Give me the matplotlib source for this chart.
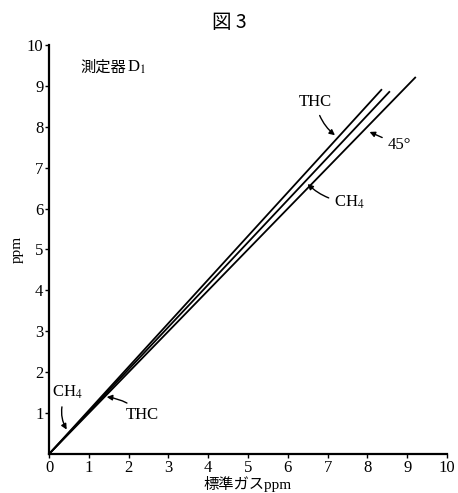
import matplotlib.pyplot as plt

plt.rcParams['font.family'] = ['Liberation Serif', 'DejaVu Serif', 'Noto Sans CJK JP']
plt.rcParams['mathtext.fontset'] = 'stix'

# standard gas concentration (ppm) vs. reading (ppm)
ref_x = [0, 9.2]
ref_y = [0, 9.2]
ch4_x = [0, 8.55]
ch4_y = [0, 8.85]
thc_x = [0, 8.35]
thc_y = [0, 8.9]

ticks = [0, 1, 2, 3, 4, 5, 6, 7, 8, 9, 10]
yticks = [1, 2, 3, 4, 5, 6, 7, 8, 9, 10]

fig = plt.figure(figsize=(4.58, 4.93), dpi=100)
ax = fig.add_axes([0.107, 0.079, 0.869, 0.83])

for xs, ys in [(ref_x, ref_y), (ch4_x, ch4_y), (thc_x, thc_y)]:
    ax.plot(xs, ys, color='black', lw=1.3)

ax.set_xlim(0, 10)
ax.set_ylim(0, 10)
ax.set_xticks(ticks)
ax.set_yticks(yticks)
ax.tick_params(direction='out', length=3, width=1, labelsize=12, pad=1)
for s in ['top', 'right']:
    ax.spines[s].set_visible(False)
for s in ['left', 'bottom']:
    ax.spines[s].set_linewidth(1.6)

cjk = ['Liberation Serif', 'Noto Sans CJK JP', 'DejaVu Serif']
ax.set_xlabel('標準ガスppm', fontsize=11, labelpad=0, family=cjk)
ax.set_ylabel('ppm', fontsize=11, labelpad=2)
fig.text(0.5, 0.955, '図 3', ha='center', va='center', fontsize=14,
         family=['Noto Sans CJK JP'])
t = ax.text(0.8, 9.45, '測定器', fontsize=11, va='center', family=['Noto Sans CJK JP'])
ax.annotate('D$_1$', xy=(1, 0.5), xycoords=t, va='center', fontsize=12)


def note(text, xy, xytext, rad):
    ax.annotate(text, xy=xy, xytext=xytext, fontsize=12, ha='center', va='center',
                arrowprops=dict(arrowstyle='-|>', color='black', lw=1,
                                mutation_scale=8,
                                connectionstyle=f'arc3,rad={rad}'))


note('THC', (7.24, 7.75), (6.7, 8.6), 0.2)
note('45°', (7.99, 7.9), (8.8, 7.55), 0.0)
note('CH$_4$', (6.45, 6.65), (7.55, 6.15), -0.2)
note('CH$_4$', (0.48, 0.54), (0.45, 1.5), 0.3)
note('THC', (1.38, 1.4), (2.35, 0.95), 0.2)

fig.savefig('out.png')
